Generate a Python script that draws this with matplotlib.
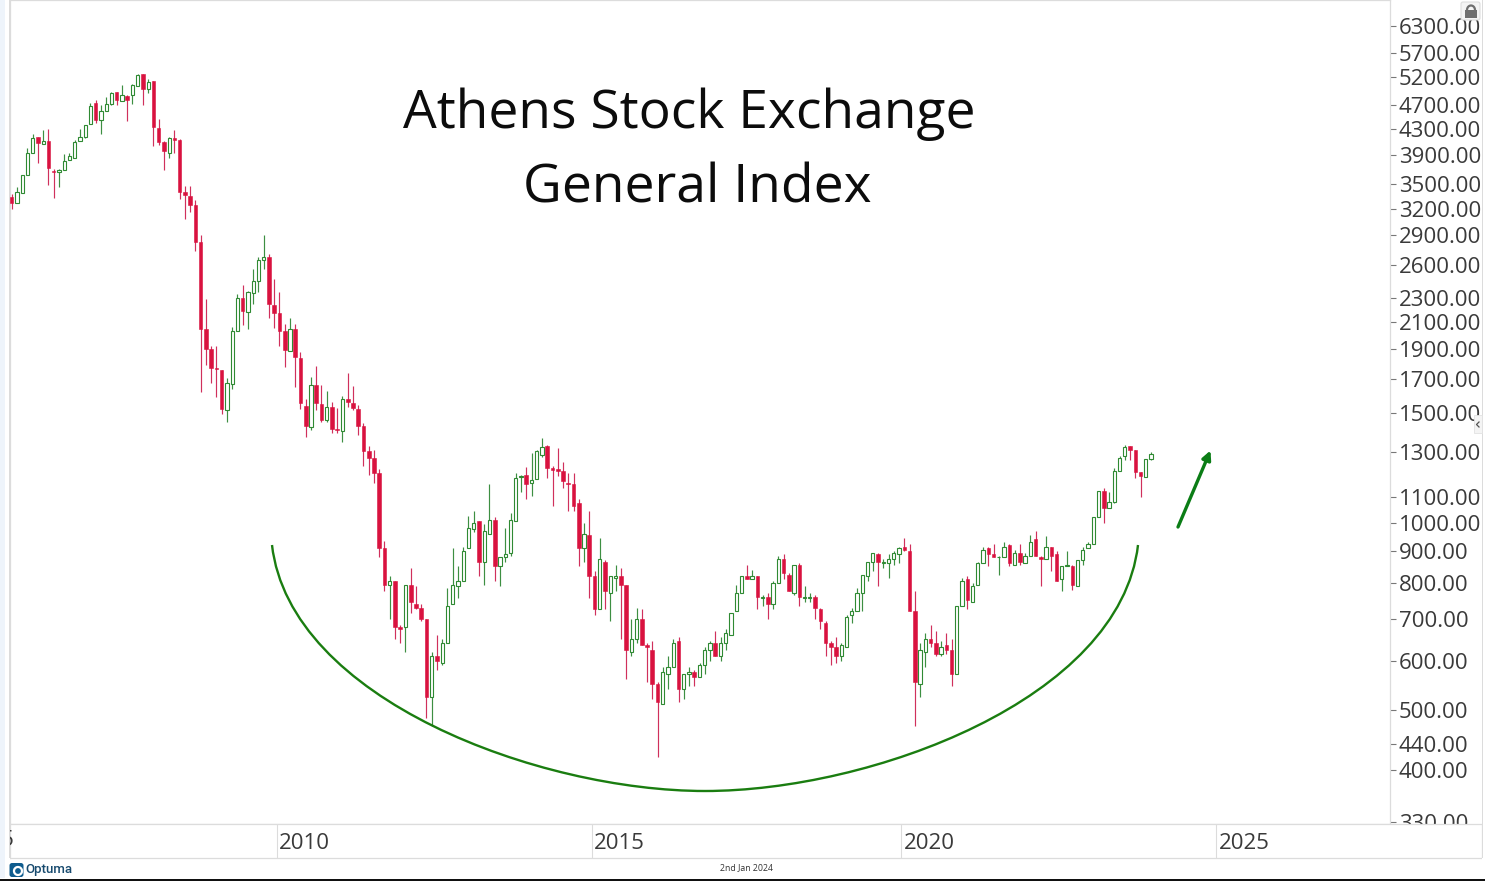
import numpy as np
import matplotlib
matplotlib.use("Agg")
import matplotlib.pyplot as plt
from matplotlib.patches import Rectangle, PathPatch, FancyArrowPatch, FancyBboxPatch, Arc
from matplotlib.path import Path
from matplotlib.transforms import ScaledTranslation

direction = ("RGGGGRGRRG" "GGGGGGRGGG" "RGRGGRGRRR" "GRRRRRRRRR" "RGGGRGGGGR"
             "RRRGRRRGRR" "GRRGRRRRRR" "RRGRRGRRRR" "GRGGGGGGGR" "GGRGGGGGRG"
             "GGRRRRRRRG" "RRGRGGRRGG" "RRRRGGGRGG" "RGGGRGGGGG" "RGRGRGGRRG"
             "RGGRRRRRGG" "GGGGGRGGGG" "RRRGGRRGRR" "GGRGGGRRGG" "RGRGGRRGRR"
             "GGRGGGGGRG" "GGGRRRGG")

highs = [3380,3470,3625,4010,4220,4165,4280,4290,3710,3705,
 3910,3925,4130,4300,4365,4725,4775,4690,4830,4925,
 4925,5060,4870,5075,5260,5275,5165,5130,4455,4105,
 4165,4275,4135,3485,3475,3305,2900,2285,1920,1925,
 1760,1710,2065,2330,2415,2360,2560,2670,2900,2700,
 2465,2345,2090,2135,2085,1880,1580,1715,1785,1665,
 1630,1565,1530,1600,1740,1660,1545,1445,1330,1310,
 1220,935,820,805,685,795,845,790,740,700,
 620,660,650,785,910,850,915,1025,1045,1005,
 995,1155,1020,880,980,1035,1200,1195,1230,1295,
 1310,1370,1335,1235,1320,1250,1200,1200,1090,1000,
 1045,835,945,870,820,855,845,795,700,730,
 725,640,645,555,585,610,650,655,570,585,
 580,595,630,645,670,655,675,715,795,820,
 855,840,820,765,770,805,885,890,830,855,
 860,790,770,765,730,695,645,655,640,710,
 730,785,825,865,895,895,875,890,900,915,
 945,925,775,640,665,685,670,645,665,650,
 735,815,820,800,865,915,915,925,885,930,
 925,905,925,895,955,970,885,950,915,900,
 850,900,855,870,915,930,1020,1125,1135,1120,
 1225,1280,1335,1330,1310,1205,1265,1300]

body_tops = [3345,3400,3625,3925,4150,4165,4105,4115,3680,3695,
 3815,3885,4090,4170,4355,4680,4725,4600,4705,4910,
 4920,4870,4850,5060,5255,5265,5120,5125,4315,4090,
 4160,4160,4130,3400,3350,3240,2825,2045,1900,1770,
 1760,1675,2035,2300,2300,2345,2450,2640,2670,2670,
 2240,2170,2035,2045,2045,1840,1540,1665,1665,1550,
 1535,1535,1415,1580,1580,1560,1525,1430,1305,1270,
 1200,910,805,805,680,795,795,740,730,700,
 610,610,640,735,795,805,900,980,1000,1005,
 970,1010,1010,880,890,1010,1180,1190,1195,1170,
 1305,1325,1330,1225,1220,1210,1160,1155,1075,960,
 955,820,875,865,820,820,820,795,650,700,
 700,635,625,550,575,585,640,645,570,575,
 575,590,625,640,640,640,665,715,770,820,
 820,820,820,760,760,800,875,875,825,855,
 855,760,760,760,725,690,640,630,635,705,
 720,770,825,865,895,890,865,875,895,910,
 915,900,720,625,650,650,640,630,635,625,
 735,805,810,790,860,905,910,890,880,915,
 920,895,895,885,930,940,880,915,915,890,
 850,855,850,870,905,925,1020,1125,1125,1080,
 1210,1270,1325,1330,1310,1205,1265,1290]

body_bottoms = [3265,3270,3390,3625,3930,4085,4070,3715,3660,3670,
 3685,3830,3865,4105,4170,4375,4450,4450,4585,4715,
 4790,4770,4790,4870,5040,4990,4985,4325,4090,3955,
 3930,4130,3405,3360,3245,2830,2045,1900,1770,1765,
 1525,1520,1670,2035,2190,2185,2340,2450,2640,2245,
 2175,2035,1895,1890,1850,1555,1430,1425,1555,1465,
 1460,1415,1410,1405,1565,1530,1430,1305,1270,1200,
 910,795,795,680,675,680,745,730,700,525,
 525,600,595,640,740,790,805,910,975,865,
 865,960,850,850,880,895,1005,1185,1155,1160,
 1175,1285,1225,1215,1210,1165,1155,1065,910,910,
 820,725,725,775,770,815,795,625,620,650,
 635,630,550,515,510,570,585,540,540,570,
 565,565,590,625,610,610,640,660,720,770,
 810,810,760,755,740,740,800,830,775,770,
 760,755,755,730,695,640,630,610,610,630,
 710,720,770,820,865,865,860,860,875,890,
 905,720,555,550,620,640,615,615,625,570,
 570,735,750,745,795,860,890,880,880,880,
 860,855,865,860,885,885,875,875,885,805,
 810,850,795,790,870,910,925,1020,1055,1055,
 1080,1210,1280,1310,1205,1190,1185,1265]

lows = [3195,3270,3390,3625,3930,3785,4070,3490,3325,3470,
 3685,3830,3855,4105,4150,4375,4385,4215,4585,4690,
 4690,4770,4425,4710,5040,4700,4910,4030,4055,3695,
 3855,3930,3315,3080,3165,2735,1620,1790,1680,1590,
 1495,1450,1640,2035,2080,2050,2245,2345,2560,2130,
 2055,1920,1780,1890,1650,1525,1375,1410,1515,1450,
 1450,1395,1395,1350,1535,1515,1385,1235,1195,1160,
 880,775,700,650,640,620,715,725,695,485,
 470,580,590,640,740,755,805,910,965,820,
 795,960,805,790,865,885,1005,1120,1090,1105,
 1175,1275,1180,1065,1190,1135,1045,1045,850,865,
 755,710,725,725,695,775,650,560,610,640,
 635,555,520,420,510,540,585,515,520,545,
 545,565,570,600,610,600,625,660,720,770,
 810,810,725,735,700,725,800,810,775,765,
 735,745,745,700,675,610,590,595,600,630,
 690,720,720,805,835,790,845,815,855,860,
 900,720,470,525,585,630,610,610,615,545,
 570,735,725,745,795,860,850,880,825,880,
 850,855,855,860,885,885,790,875,835,805,
 775,850,780,790,855,910,925,1020,1000,1055,
 1075,1210,1260,1260,1180,1100,1185,1260]

y_ticks = [6300,5700,5200,4700,4300,3900,3500,3200,2900,2600,2300,2100,1900,1700,
           1500,1300,1100,1000,900,800,700,600,500,440,400,330]
year_labels = ["2010", "2015", "2020", "2025"]
year_ticks = [50.5, 110.5, 169.4, 229.4]   # month-bar index of each January
cut_label, cut_tick = "2005", -9.5         # runs off the left edge of the date band

W, H = 1485, 881
GREEN, RED = "#2f8a33", "#d9123f"
GREEN_WICK, RED_WICK = "#3d8f42", "#d0305c"
GRID = "#dcdcdc"
TEXT = "#3a3a3a"
plt.rcParams["font.family"] = ["Open Sans", "DejaVu Sans"]

fig = plt.figure(figsize=(W / 100, H / 100), dpi=100, facecolor="white")
def box(x0, y0, x1, y1):
    return [x0 / W, 1 - y1 / H, (x1 - x0) / W, (y1 - y0) / H]

# ---- main price panel
ax = fig.add_axes(box(10, 0, 1390, 824), zorder=1)
idx = np.arange(len(highs))
up = np.array([d == "G" for d in direction])
hi, lo = np.array(highs, float), np.array(lows, float)
bt, bb = np.array(body_tops, float), np.array(body_bottoms, float)
ax.set_yscale("log")
ax.vlines(idx[up], lo[up], bb[up], color=GREEN_WICK, lw=0.85, zorder=2)
ax.vlines(idx[up], bt[up], hi[up], color=GREEN_WICK, lw=0.85, zorder=2)
ax.vlines(idx[~up], lo[~up], hi[~up], color=RED_WICK, lw=0.85, zorder=2)
ax.bar(idx[up], bt[up] - bb[up], bottom=bb[up], width=0.62, facecolor="white",
       edgecolor=GREEN, linewidth=0.8, zorder=3)
ax.bar(idx[~up], bt[~up] - bb[~up], bottom=bb[~up], width=0.68, facecolor=RED,
       edgecolor=RED, linewidth=0.4, zorder=3)
ax.set_xlim(-0.32, 262.5)
k = 270.0
ax.set_ylim(400 * np.exp((770 - 824) / k), 400 * np.exp(770 / k))
ax.yaxis.tick_right()
ax.set_yticks(y_ticks)
ax.set_yticklabels([f"{v:.2f}" for v in y_ticks])
ax.minorticks_off()
ax.set_xticks([])
ax.tick_params(axis="y", length=4, width=0.8, color="#777777", pad=2.2, labelsize=16,
               labelcolor=TEXT)
for s in ax.spines.values():
    s.set_color(GRID); s.set_linewidth(0.9)

# ---- date band
band = fig.add_axes(box(10, 824, 1482, 858), zorder=2, facecolor="white")
band.set_ylim(0, 1)
band.set_yticks([])
band.set_xticks(year_ticks)
band.set_xticklabels(year_labels, ha="left")
band.set_xlim(-0.32, (1482 - 11.7) / 5.25)
band.tick_params(axis="x", direction="in", length=24.5, width=0.8, color=GRID,
                 pad=-18.3, labelsize=16, labelcolor=TEXT)
offset = ScaledTranslation(2.5 / 100, 0, fig.dpi_scale_trans)
for lab in band.get_xticklabels():
    lab.set_transform(lab.get_transform() + offset)
band.text(cut_tick, 0.5, cut_label, ha="left", va="center", fontsize=16, color=TEXT,
          clip_on=True, transform=band.transData + offset)
for s in band.spines.values():
    s.set_color(GRID); s.set_linewidth(0.9)

# ---- pixel overlay: annotations and chrome
ov = fig.add_axes([0, 0, 1, 1], zorder=5, facecolor="none")
ov.set_xlim(0, W); ov.set_ylim(H, 0); ov.axis("off")
ov.add_patch(Rectangle((0, 0), 10, 881, fc="white", ec="none"))
ov.add_patch(Rectangle((0, 0), 5, 878, fc="#eef4fb", ec="none"))
ov.add_patch(Rectangle((9, 0), 1.2, 858, fc=GRID, ec="none"))
ov.add_patch(Rectangle((1482, 0), 3, 881, fc="white", ec="none"))
ov.add_patch(Rectangle((1481.5, 0), 1, 858, fc=GRID, ec="none"))
ov.add_patch(Rectangle((0, 878.6), W, 2.4, fc="#111111", ec="none"))

ov.text(689, 114, "Athens Stock Exchange", ha="center", va="center", fontsize=38.4, color="#0c0c0c")
ov.text(697, 189, "General Index", ha="center", va="center", fontsize=38.4, color="#0c0c0c")

verts = [(272, 545), (290, 700), (540, 791), (705, 791), (870, 791), (1120, 700), (1138, 545)]
codes = [Path.MOVETO] + [Path.CURVE4] * 6
ov.add_patch(PathPatch(Path(verts, codes), fc="none", ec="#1a7d10", lw=1.7))
ov.add_patch(FancyArrowPatch((1178, 527), (1210.5, 450.5), arrowstyle="-|>", mutation_scale=13,
                             color="#0b7d16", lw=2.4, shrinkA=0, shrinkB=0))

# lock
ov.add_patch(FancyBboxPatch((1461, 2), 19, 18, boxstyle="round,pad=0,rounding_size=2",
                            fc="#f4f4f4", ec="#dddddd", lw=0.8))
ov.add_patch(Rectangle((1465, 10), 12, 8, fc="#6f6f6f", ec="none"))
ov.add_patch(Arc((1471, 10), 8, 9, theta1=180, theta2=360, ec="#6f6f6f", lw=1.6))
# scroll tab
ov.add_patch(Rectangle((1474, 415), 8, 18, fc="#f4f4f4", ec="#e2e2e2", lw=0.6))
ov.plot([1479, 1476.5, 1479], [422, 424.5, 427], color="#555555", lw=0.9)

# footer
ov.add_patch(FancyBboxPatch((9.5, 863), 14, 14, boxstyle="round,pad=0,rounding_size=2.5",
                            fc="#0f5c8e", ec="none"))
ov.add_patch(Arc((18, 871), 8, 8, theta1=0, theta2=360, ec="white", lw=1.6))
ov.text(25, 870, "Optuma", ha="left", va="center", fontsize=9.5, color="#174a6e",
        family="Roboto", weight="medium")
ov.text(747, 868, "2nd Jan 2024", ha="center", va="center", fontsize=6.3, color="#333333")

fig.savefig("out.png", dpi=100, facecolor="white")
